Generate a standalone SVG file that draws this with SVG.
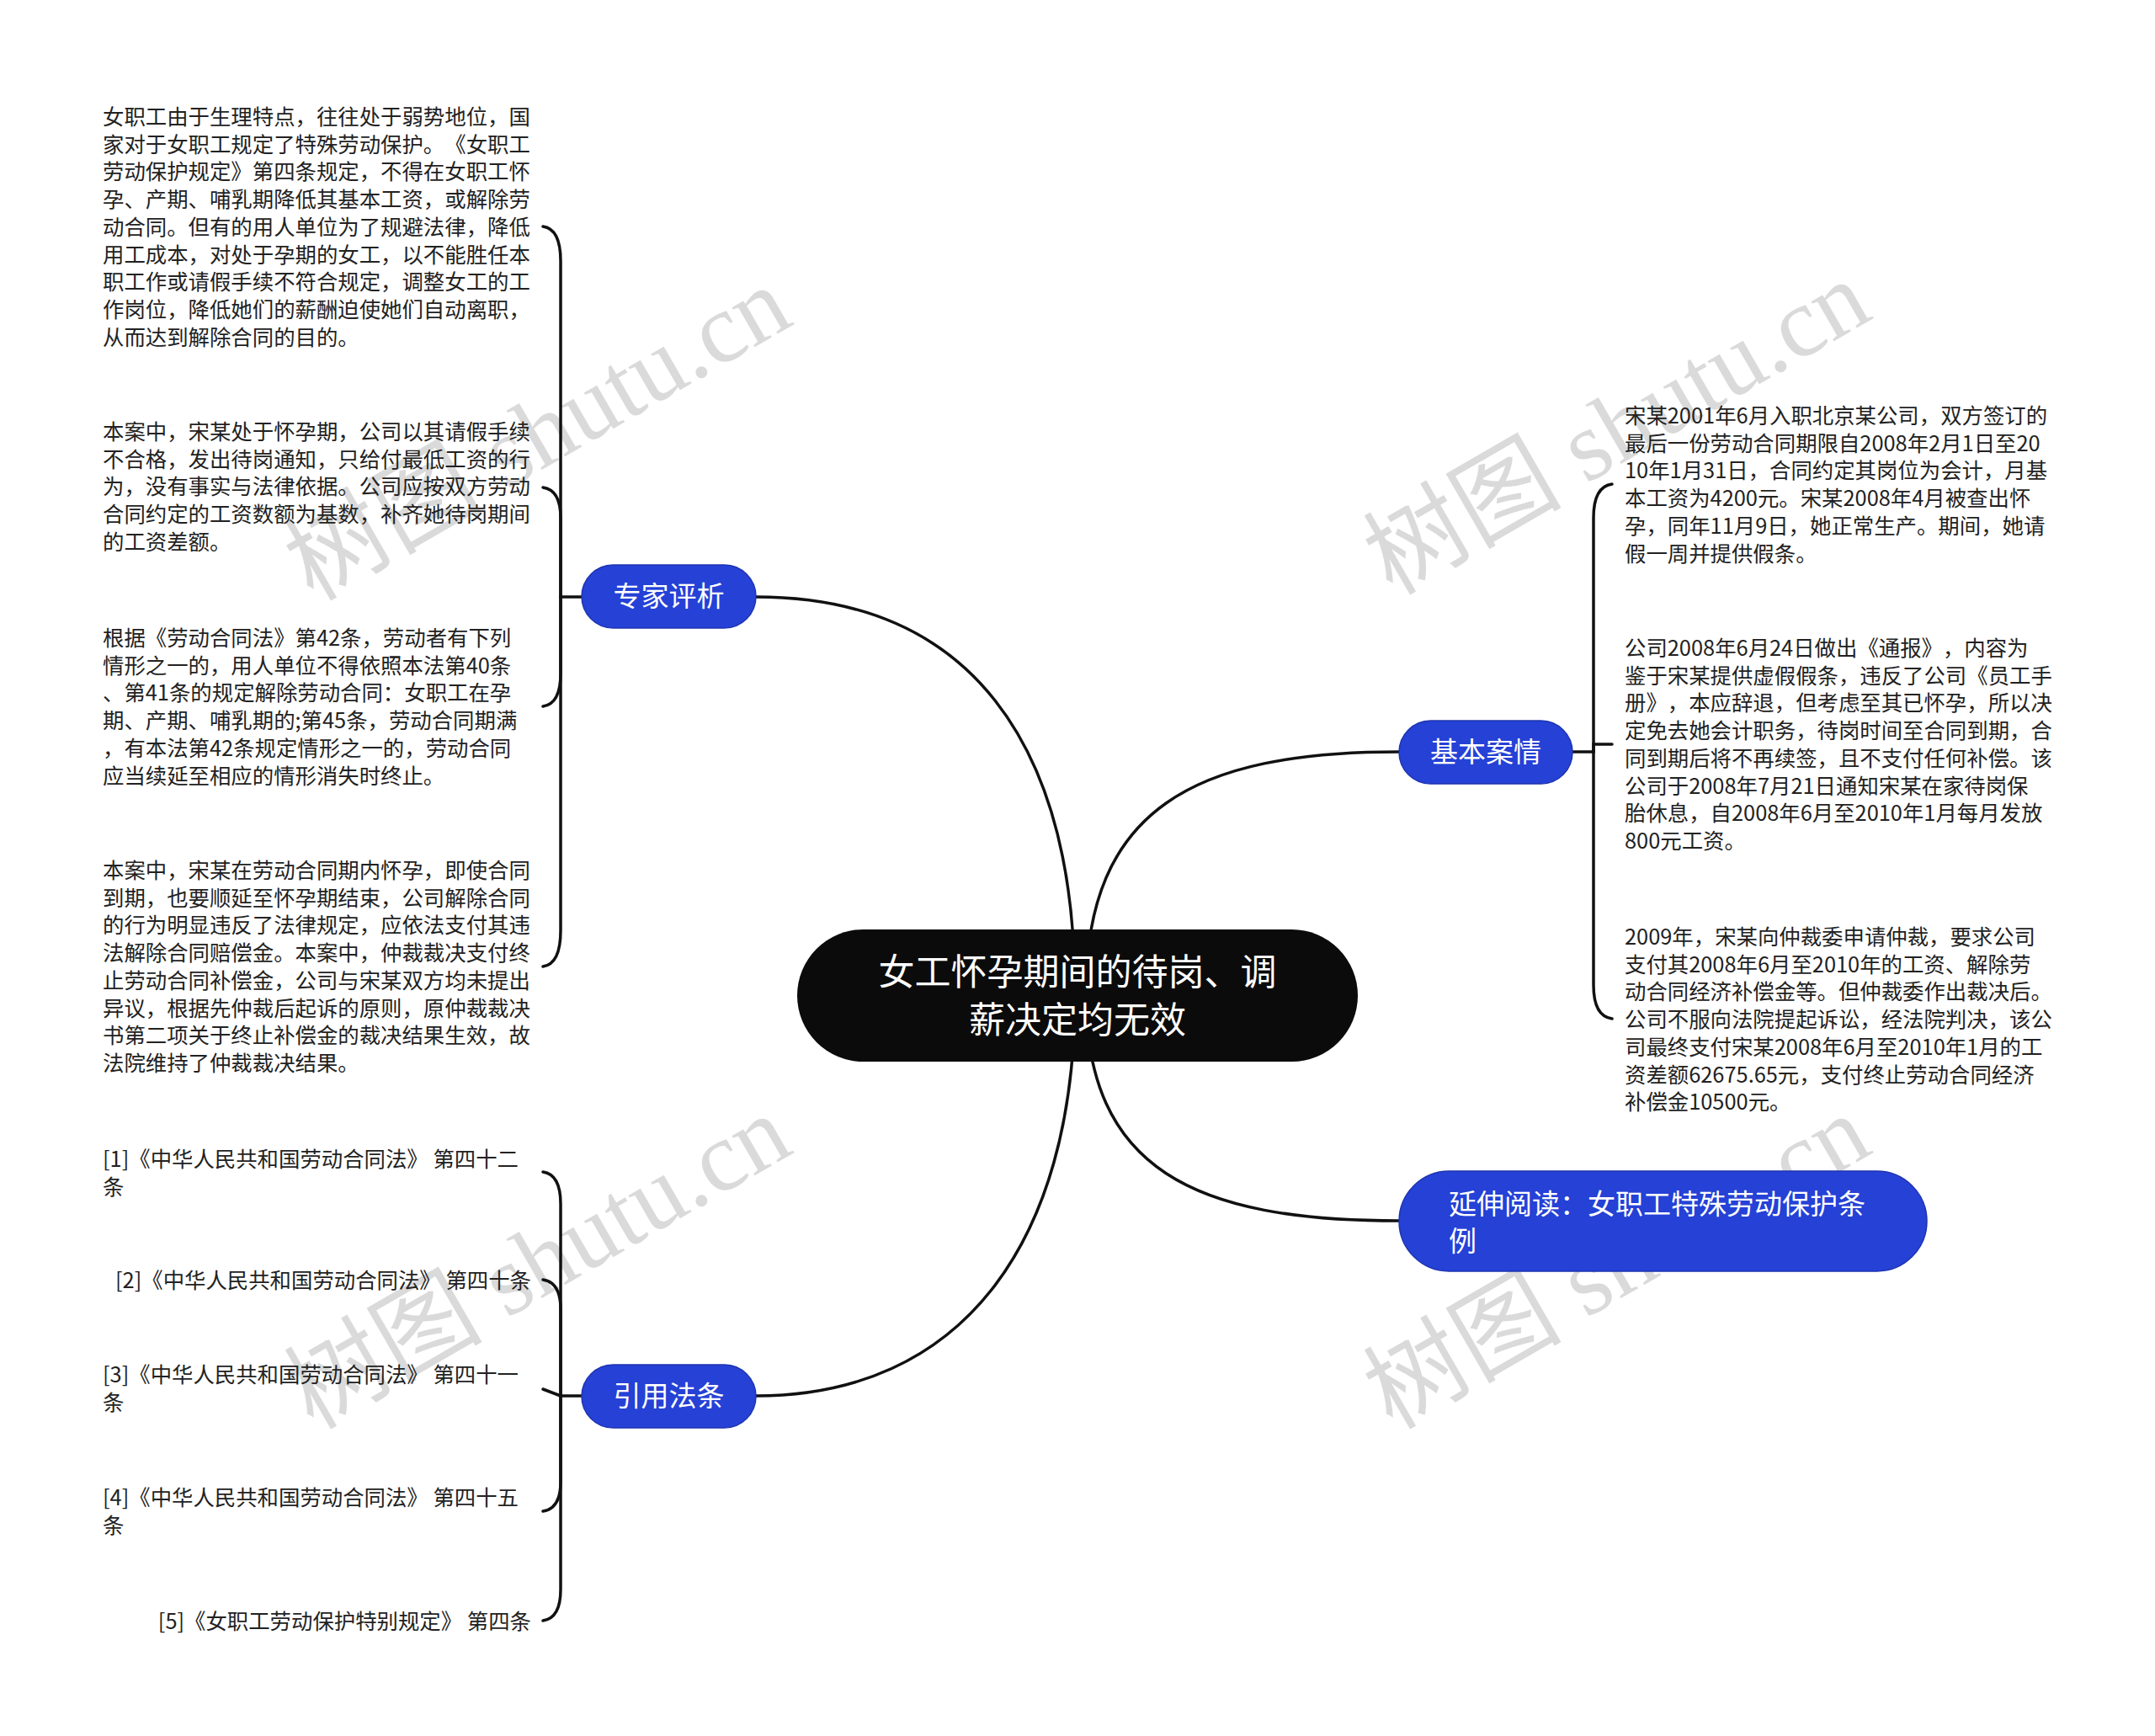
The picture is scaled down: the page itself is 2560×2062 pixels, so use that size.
<svg xmlns="http://www.w3.org/2000/svg" width="2560" height="2062" viewBox="0 0 2560 2062">
<style>
.bg{fill:#ffffff}
.wm{font-family:"Liberation Serif","Noto Sans CJK SC",serif;font-size:118px;fill:#d4d4d4;fill-opacity:0.85}
.conn{fill:none;stroke:#111111;stroke-width:3.5;stroke-linecap:round}
.leaf{font-family:"Noto Sans CJK SC","Noto Sans",sans-serif;font-size:25.4px;fill:#222222;text-spacing-trim:space-all}
.topic{fill:#2541d6;stroke:#1e34b0;stroke-width:1.5}
.topicText{font-family:"Noto Sans CJK SC","Noto Sans",sans-serif;font-size:33px;fill:#ffffff;text-spacing-trim:space-all}
.root{fill:#0b0b0b}
.rootText{font-family:"Noto Sans CJK SC","Noto Sans",sans-serif;font-size:43px;fill:#ffffff;text-anchor:middle;text-spacing-trim:space-all}
</style>
<rect class="bg" x="0" y="0" width="2560" height="2062"/>
<g id="watermarks">
<text class="wm" x="645" y="526" text-anchor="middle" dominant-baseline="middle" transform="rotate(-30 645 526)">树图 shutu.cn</text>
<text class="wm" x="1927" y="519" text-anchor="middle" dominant-baseline="middle" transform="rotate(-30 1927 519)">树图 shutu.cn</text>
<text class="wm" x="645" y="1510" text-anchor="middle" dominant-baseline="middle" transform="rotate(-30 645 1510)">树图 shutu.cn</text>
<text class="wm" x="1927" y="1510" text-anchor="middle" dominant-baseline="middle" transform="rotate(-30 1927 1510)">树图 shutu.cn</text>
</g>
<g id="connectors">
<path class="conn" d="M 898 709 C 1150 709, 1277 880, 1277 1180"/>
<path class="conn" d="M 1290 1180 C 1290 960, 1420 893, 1662 893"/>
<path class="conn" d="M 1290 1180 C 1290 1390, 1420 1450, 1662 1450"/>
<path class="conn" d="M 1277 1180 C 1277 1480, 1140 1658, 898 1658"/>
<path class="conn" d="M 691 709 L 666 709"/>
<path class="conn" d="M 666 709 L 666 310 Q 666 272 645 269"/>
<path class="conn" d="M 666 709 L 666 615 Q 666 582 645 579"/>
<path class="conn" d="M 666 709 L 666 800 Q 666 836 645 839"/>
<path class="conn" d="M 666 709 L 666 1105 Q 666 1145 645 1148"/>
<path class="conn" d="M 1868 893 L 1893 893"/>
<path class="conn" d="M 1893 893 L 1893 615 Q 1893 578 1915 575"/>
<path class="conn" d="M 1893 893 L 1893 884 L 1915 884"/>
<path class="conn" d="M 1893 893 L 1893 1170 Q 1893 1207 1915 1210"/>
<path class="conn" d="M 691 1658 L 666 1658"/>
<path class="conn" d="M 666 1658 L 666 1430 Q 666 1395 645 1392"/>
<path class="conn" d="M 666 1658 L 666 1555 Q 666 1523 645 1520"/>
<path class="conn" d="M 666 1658 L 645 1650"/>
<path class="conn" d="M 666 1658 L 666 1760 Q 666 1792 645 1795"/>
<path class="conn" d="M 666 1658 L 666 1888 Q 666 1922 645 1925"/>
</g>
<g id="root">
<rect class="root" x="947" y="1104" width="666" height="157" rx="78.5"/>
<text class="rootText" x="1280" y="1170"><tspan x="1280" dy="0">女工怀孕期间的待岗、调</tspan><tspan x="1280" dy="56.5">薪决定均无效</tspan></text>
</g>
<g id="topic-expert">
<rect class="topic" x="691" y="671" width="207" height="75" rx="37.5"/>
<text class="topicText" x="794.5" y="720" text-anchor="middle">专家评析</text>
</g>
<g id="topic-case">
<rect class="topic" x="1662" y="856" width="206" height="75" rx="37.5"/>
<text class="topicText" x="1765" y="905" text-anchor="middle">基本案情</text>
</g>
<g id="topic-law">
<rect class="topic" x="691" y="1621" width="207" height="75" rx="37.5"/>
<text class="topicText" x="794.5" y="1670" text-anchor="middle">引用法条</text>
</g>
<g id="topic-read">
<rect class="topic" x="1662" y="1391" width="627" height="119" rx="59.5"/>
<text class="topicText" x="1721" y="1442"><tspan x="1721" dy="0">延伸阅读：女职工特殊劳动保护条</tspan><tspan x="1721" dy="43.5">例</tspan></text>
</g>
<g id="leaf-expert-1">
<text class="leaf" x="122" y="148">
<tspan x="122" dy="0">女职工由于生理特点，往往处于弱势地位，国</tspan>
<tspan x="122" dy="32.7">家对于女职工规定了特殊劳动保护。《女职工</tspan>
<tspan x="122" dy="32.7">劳动保护规定》第四条规定，不得在女职工怀</tspan>
<tspan x="122" dy="32.7">孕、产期、哺乳期降低其基本工资，或解除劳</tspan>
<tspan x="122" dy="32.7">动合同。但有的用人单位为了规避法律，降低</tspan>
<tspan x="122" dy="32.7">用工成本，对处于孕期的女工，以不能胜任本</tspan>
<tspan x="122" dy="32.7">职工作或请假手续不符合规定，调整女工的工</tspan>
<tspan x="122" dy="32.7">作岗位，降低她们的薪酬迫使她们自动离职，</tspan>
<tspan x="122" dy="32.7">从而达到解除合同的目的。</tspan>
</text>
</g>
<g id="leaf-expert-2">
<text class="leaf" x="122" y="522">
<tspan x="122" dy="0">本案中，宋某处于怀孕期，公司以其请假手续</tspan>
<tspan x="122" dy="32.7">不合格，发出待岗通知，只给付最低工资的行</tspan>
<tspan x="122" dy="32.7">为，没有事实与法律依据。公司应按双方劳动</tspan>
<tspan x="122" dy="32.7">合同约定的工资数额为基数，补齐她待岗期间</tspan>
<tspan x="122" dy="32.7">的工资差额。</tspan>
</text>
</g>
<g id="leaf-expert-3">
<text class="leaf" x="122" y="767">
<tspan x="122" dy="0">根据《劳动合同法》第42条，劳动者有下列</tspan>
<tspan x="122" dy="32.7">情形之一的，用人单位不得依照本法第40条</tspan>
<tspan x="122" dy="32.7">、第41条的规定解除劳动合同：女职工在孕</tspan>
<tspan x="122" dy="32.7">期、产期、哺乳期的;第45条，劳动合同期满</tspan>
<tspan x="122" dy="32.7">，有本法第42条规定情形之一的，劳动合同</tspan>
<tspan x="122" dy="32.7">应当续延至相应的情形消失时终止。</tspan>
</text>
</g>
<g id="leaf-expert-4">
<text class="leaf" x="122" y="1043">
<tspan x="122" dy="0">本案中，宋某在劳动合同期内怀孕，即使合同</tspan>
<tspan x="122" dy="32.7">到期，也要顺延至怀孕期结束，公司解除合同</tspan>
<tspan x="122" dy="32.7">的行为明显违反了法律规定，应依法支付其违</tspan>
<tspan x="122" dy="32.7">法解除合同赔偿金。本案中，仲裁裁决支付终</tspan>
<tspan x="122" dy="32.7">止劳动合同补偿金，公司与宋某双方均未提出</tspan>
<tspan x="122" dy="32.7">异议，根据先仲裁后起诉的原则，原仲裁裁决</tspan>
<tspan x="122" dy="32.7">书第二项关于终止补偿金的裁决结果生效，故</tspan>
<tspan x="122" dy="32.7">法院维持了仲裁裁决结果。</tspan>
</text>
</g>
<g id="leaf-law-1">
<text class="leaf" x="122" y="1386">
<tspan x="122" dy="0">[1]《中华人民共和国劳动合同法》 第四十二</tspan>
<tspan x="122" dy="32.7">条</tspan>
</text>
</g>
<g id="leaf-law-2">
<text class="leaf" x="631" y="1530" text-anchor="end">[2]《中华人民共和国劳动合同法》 第四十条</text>
</g>
<g id="leaf-law-3">
<text class="leaf" x="122" y="1642">
<tspan x="122" dy="0">[3]《中华人民共和国劳动合同法》 第四十一</tspan>
<tspan x="122" dy="32.7">条</tspan>
</text>
</g>
<g id="leaf-law-4">
<text class="leaf" x="122" y="1788">
<tspan x="122" dy="0">[4]《中华人民共和国劳动合同法》 第四十五</tspan>
<tspan x="122" dy="32.7">条</tspan>
</text>
</g>
<g id="leaf-law-5">
<text class="leaf" x="631" y="1935" text-anchor="end">[5]《女职工劳动保护特别规定》 第四条</text>
</g>
<g id="leaf-case-1">
<text class="leaf" x="1930" y="503">
<tspan x="1930" dy="0">宋某2001年6月入职北京某公司，双方签订的</tspan>
<tspan x="1930" dy="32.7">最后一份劳动合同期限自2008年2月1日至20</tspan>
<tspan x="1930" dy="32.7">10年1月31日，合同约定其岗位为会计，月基</tspan>
<tspan x="1930" dy="32.7">本工资为4200元。宋某2008年4月被查出怀</tspan>
<tspan x="1930" dy="32.7">孕，同年11月9日，她正常生产。期间，她请</tspan>
<tspan x="1930" dy="32.7">假一周并提供假条。</tspan>
</text>
</g>
<g id="leaf-case-2">
<text class="leaf" x="1930" y="779">
<tspan x="1930" dy="0">公司2008年6月24日做出《通报》，内容为</tspan>
<tspan x="1930" dy="32.7">鉴于宋某提供虚假假条，违反了公司《员工手</tspan>
<tspan x="1930" dy="32.7">册》，本应辞退，但考虑至其已怀孕，所以决</tspan>
<tspan x="1930" dy="32.7">定免去她会计职务，待岗时间至合同到期，合</tspan>
<tspan x="1930" dy="32.7">同到期后将不再续签，且不支付任何补偿。该</tspan>
<tspan x="1930" dy="32.7">公司于2008年7月21日通知宋某在家待岗保</tspan>
<tspan x="1930" dy="32.7">胎休息，自2008年6月至2010年1月每月发放</tspan>
<tspan x="1930" dy="32.7">800元工资。</tspan>
</text>
</g>
<g id="leaf-case-3">
<text class="leaf" x="1930" y="1122">
<tspan x="1930" dy="0">2009年，宋某向仲裁委申请仲裁，要求公司</tspan>
<tspan x="1930" dy="32.7">支付其2008年6月至2010年的工资、解除劳</tspan>
<tspan x="1930" dy="32.7">动合同经济补偿金等。但仲裁委作出裁决后。</tspan>
<tspan x="1930" dy="32.7">公司不服向法院提起诉讼，经法院判决，该公</tspan>
<tspan x="1930" dy="32.7">司最终支付宋某2008年6月至2010年1月的工</tspan>
<tspan x="1930" dy="32.7">资差额62675.65元，支付终止劳动合同经济</tspan>
<tspan x="1930" dy="32.7">补偿金10500元。</tspan>
</text>
</g>
</svg>
